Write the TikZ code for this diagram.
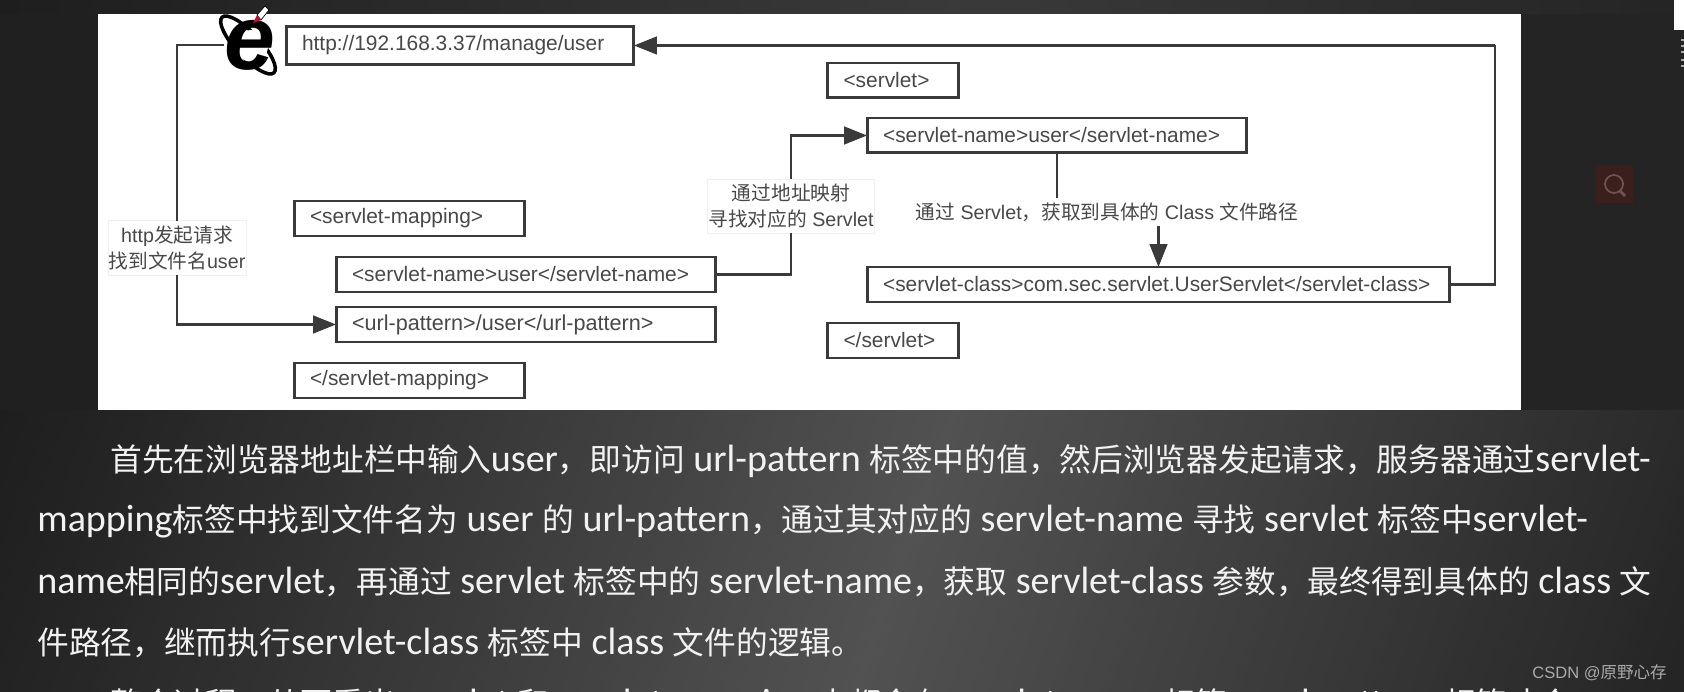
\documentclass[tikz,border=0pt]{standalone}
\usepackage{fontspec}
\usepackage{xcolor}
\usetikzlibrary{arrows.meta,positioning,calc,shapes.geometric}
\setmainfont{Carlito}[Scale=1.2]
\newfontfamily\cjkfont{Noto Sans CJK SC}
\newfontfamily\wirefont{Liberation Sans}
\newcommand{\zh}[1]{{\cjkfont #1}}
\definecolor{BgDark}{HTML}{1E1E1E}
\definecolor{BgLight}{HTML}{525252}
\definecolor{BgEdge}{HTML}{242424}
\definecolor{StripMid}{HTML}{3A3A3A}
\definecolor{WireLine}{HTML}{3A3A3A}
\definecolor{WireText}{HTML}{484848}
\definecolor{Mark}{HTML}{AAAAAA}
\definecolor{Body}{HTML}{F2F2F2}
\definecolor{SearchBg}{HTML}{3A1F1C}
\definecolor{SearchLine}{HTML}{6A5552}
\definecolor{PenRed}{HTML}{C8102E}
\tikzset{
  wirebox/.style={draw=WireLine, line width=1.7pt, fill=white, text=WireText, font=\wirefont\fontsize{11.9}{14}\selectfont,
    inner xsep=0.32cm, inner ysep=0pt, outer sep=0pt, minimum height=0.7cm, text width=#1, align=left},
  flowlabel/.style={draw=black!6, line width=0.4pt, fill=white, text=WireText, font=\wirefont\fontsize{11.2}{15}\selectfont,
    inner sep=0pt, outer sep=0pt, align=center},
  flow/.style={draw=WireLine, line width=1.4pt},
  flowtip/.style={flow, -{Triangle[length=13pt,width=10pt]}},
  bodyline/.style={anchor=base west, inner sep=0pt, text=Body, font=\fontsize{18.05}{22}\selectfont}
}

\begin{document}
\begin{tikzpicture}[x=0.02cm, y=-0.02cm]
  \useasboundingbox (0,0) rectangle (1684,692);
  \clip (0,0) rectangle (1684,692);
  \fill[BgDark] (0,0) rectangle (1684,692);
  \foreach \x in {-100,-90,...,1800} {
    \pgfmathtruncatemacro\mixlow{max(100-abs(\x-950)/9.5,0)}
    \fill[BgLight!\mixlow!BgDark] (\x,410) -- (1800,410) -- (1800,692) -- (\x-100,692) -- cycle;
    \fill[StripMid!\mixlow!BgDark] (\x,0) -- (1800,0) -- (1800,14) -- (\x,14) -- cycle;
  }
  \fill[BgEdge] (1520,14) rectangle (1684,410);
  \fill[BgDark!70!BgEdge] (0,14) rectangle (98,410);
  \fill[white] (98,14) rectangle (1521,410);
  \fill[white] (1674,0) rectangle (1684,30);
  \foreach \y in {40,46,52,60,66} {
    \draw[Mark, line width=1pt] (1681,\y) -- (1684,\y);
  }
  \fill[SearchBg] (1596,166) rectangle (1633,203);
  \draw[SearchLine, line width=1pt] (1614,184) circle (9);
  \draw[SearchLine, line width=1.6pt] (1620,191) -- (1625,196);

  \node[wirebox=6.32cm, minimum height=0.76cm] (urlbar) at (460,45.5) {\raisebox{-2pt}{http://192.168.3.37/manage/user}};
  \node[wirebox=3.98cm] (mapopen) at (409.5,218.5) {<servlet-mapping>};
  \node[wirebox=6.96cm] (mapname) at (526,274.5) {<servlet-name>user</servlet-name>};
  \node[wirebox=6.96cm] (mappattern) at (526,324.5) {\fontsize{12.3}{14}\selectfont <url-pattern>/user</url-pattern>};
  \node[wirebox=3.98cm] (mapclose) at (409.5,380.5) {</servlet-mapping>};
  \node[wirebox=1.98cm] (servopen) at (893,80.5) {<servlet>};
  \node[wirebox=6.96cm] (servname) at (1057,135.5) {<servlet-name>user</servlet-name>};
  \node[wirebox=11.02cm] (servclass) at (1158.5,284.5) {<servlet-class>com.sec.servlet.UserServlet</servlet-class>};
  \node[wirebox=1.98cm] (servclose) at (893,340.5) {</servlet>};

  \draw[black, line width=2pt, rotate around={-47:(248,45)}] (248,45) ellipse (38 and 12);
  \fill[white] (252,46) circle (16);
  \node[inner sep=0pt, outer sep=0pt, minimum width=1.04cm, font=\wirefont\bfseries\itshape\fontsize{52}{52}\selectfont] (browser) at (250,45) {e};
  \filldraw[fill=white, draw=black, line width=0.4pt] (257,15) -- (265,6) -- (269,10) -- (261,20) -- cycle;
  \fill[PenRed] (253,23) -- (257,15) -- (261,20) -- cycle;

  \node[flowlabel, minimum width=2.76cm, minimum height=1.1cm] (askfile) at (177,248) {http\zh{发起请求}\\\zh{找到文件名}user};
  \node[flowlabel, minimum width=3.34cm, minimum height=1.08cm] (findserv) at (791,206) {\zh{通过地址映射}\\\zh{寻找对应的} Servlet};
  \node[flowlabel, draw=none, minimum width=7.7cm, minimum height=0.56cm] (getclass) at (1107,212) {\zh{通过} Servlet\zh{，获取到具体的} Class \zh{文件路径}};
  \coordinate (backturn) at (1495,45.5);

  \draw[flow] (browser.west) -| (askfile.north);
  \draw[flowtip] (askfile.south) |- (mappattern.west);
  \draw[flow] (mapname.east) -| (findserv.south);
  \draw[flowtip] (findserv.north) |- (servname.west);
  \draw[flow] (servname.south) -- (servname.south |- getclass.north);
  \draw[flowtip] (servclass.north |- getclass.south) -- (servclass.north);
  \draw[flow] (servclass.east) -| (backturn);
  \draw[flowtip] (backturn) -- (urlbar.east);

  \node[bodyline] (lineone) at (110,471.5) {\zh{首先在浏览器地址栏中输入}user\zh{，即访问} url-pattern \zh{标签中的值，然后浏览器发起请求，服务器通过}servlet-};
  \node[bodyline] (linetwo) at (37,531) {mapping\zh{标签中找到文件名为} user \zh{的} url-pattern\zh{，通过其对应的} servlet-name \zh{寻找} servlet \zh{标签中}servlet-};
  \node[bodyline] (linethree) at (37,593) {name\zh{相同的}servlet\zh{，再通过} servlet \zh{标签中的} servlet-name\zh{，获取} servlet-class \zh{参数，最终得到具体的} class \zh{文}};
  \node[bodyline] (linefour) at (37,654) {\zh{件路径，继而执行}servlet-class \zh{标签中} class \zh{文件的逻辑。}};
  \node[bodyline] (linefive) at (110,715) {\zh{整个过程，从而看出} servlet \zh{和} servlet-mapping \zh{中都含有} servlet-name \zh{标签，} url-pattern \zh{相符才会}};
  \node[anchor=east, inner sep=0pt, text=Mark, font=\wirefont\fontsize{9.4}{11}\selectfont] (watermark) at (1667,673) {CSDN @\zh{原野心存}};
\end{tikzpicture}
\end{document}
